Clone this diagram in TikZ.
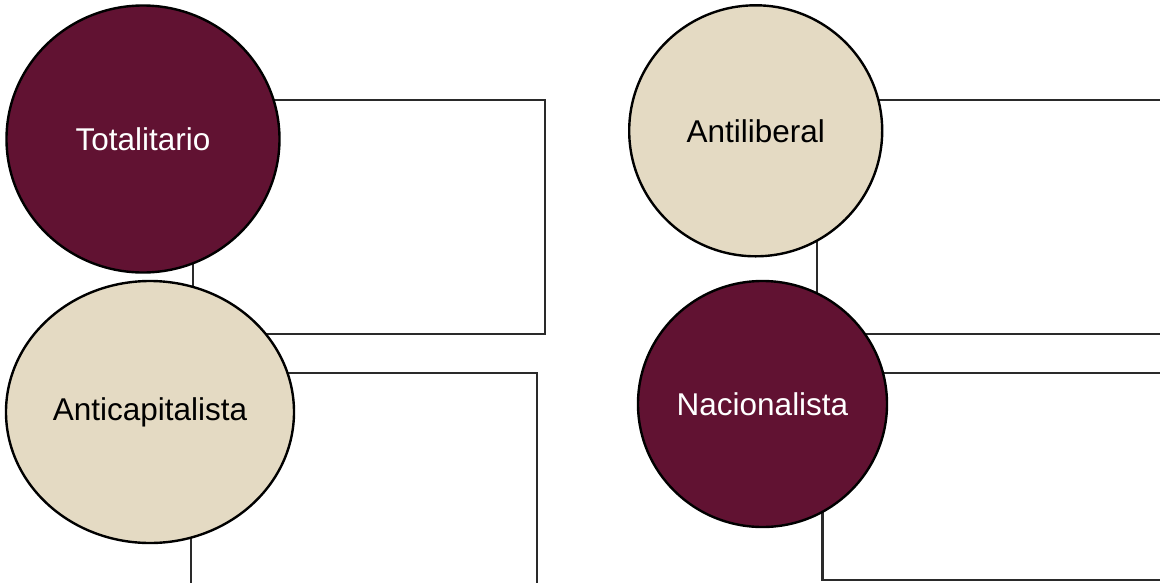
\documentclass[tikz,border=0pt]{standalone}
\usepackage{fontspec}
\setmainfont{Liberation Sans}
\usetikzlibrary{shapes.geometric}
\definecolor{maroon}{HTML}{611232}
\definecolor{beige}{HTML}{E4DAC3}
\definecolor{linegray}{HTML}{2A2A2A}
\tikzset{
  frame/.style={draw=linegray, line width=2.2pt},
  bubble/.style={ellipse, draw=black, line width=2.4pt, inner sep=0pt,
     font=\fontsize{31.5}{38}\selectfont},
  darkbub/.style={bubble, fill=maroon, text=white},
  lightbub/.style={bubble, fill=beige, text=black},
}
\begin{document}
\begin{tikzpicture}[x=1pt,y=1pt]
\useasboundingbox (0,0) rectangle (1160,-582);
\clip (0,0) rectangle (1160,-582);
\fill[white] (0,0) rectangle (1160,-582);
% frames behind the circles
\draw[frame] (193,-100) rectangle (545,-334);
\draw[frame] (191,-600) |- (537,-373) -- (537,-600);
\draw[frame] (817,-256) |- (1200,-100);
\draw[frame] (817,-256) |- (1200,-334);
\draw[frame] (1200,-373) -| (822.5,-580) -- (1200,-580);
% circles
\node[darkbub, minimum width=273pt, minimum height=267pt] (tot) at (143,-139) {Totalitario};
\node[lightbub, minimum width=288pt, minimum height=262pt] (anti) at (150,-412) {Anticapitalista};
\node[lightbub, minimum width=253pt, minimum height=251pt] (lib) at (755.7,-130.8) {Antiliberal};
\node[darkbub, minimum width=249pt, minimum height=246pt] (nac) at (762.5,-404) {Nacionalista};
\end{tikzpicture}
\end{document}
